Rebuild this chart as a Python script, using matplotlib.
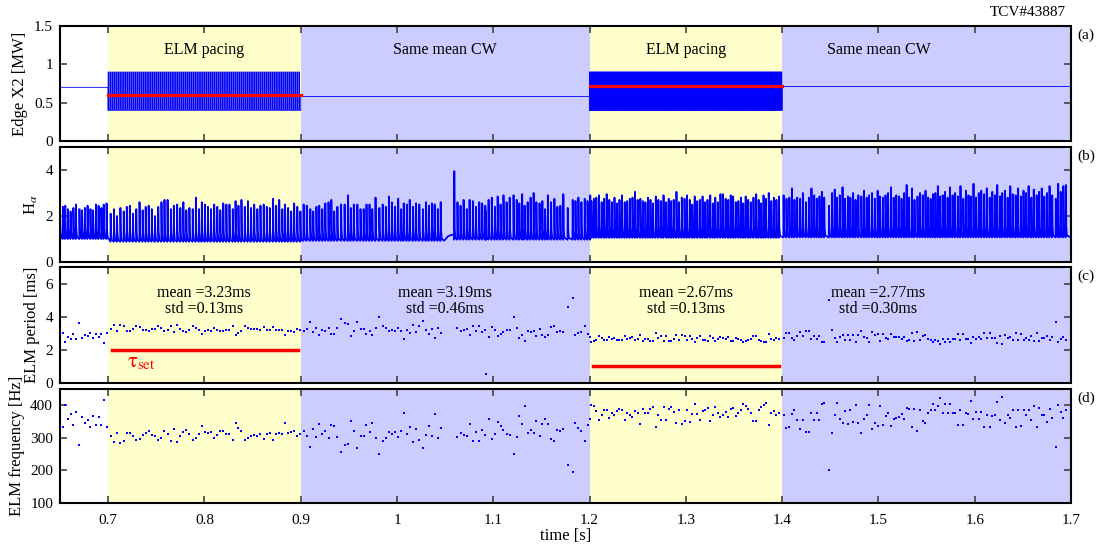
import matplotlib
matplotlib.use('Agg')
import numpy as np
import matplotlib.pyplot as plt
from matplotlib.ticker import FuncFormatter

plt.rcParams['font.family'] = ['Liberation Serif', 'DejaVu Serif']
plt.rcParams['mathtext.fontset'] = 'stix'
plt.rcParams['font.size'] = 11

# ---- phases of the shot ----
pace_on = [0.7, 1.2]
pace_off = [0.9, 1.4]
cw_on = [0.9, 1.4]
cw_off = [1.2, 1.7]
phase_names = ['ELM pacing', 'Same mean CW', 'ELM pacing', 'Same mean CW']
phase_label_t = [0.8, 1.05, 1.3, 1.5]

# ---- edge X2 power (a) ----
cw_level = [0.70, 0.58, 0.71]      # before, between and after pacing [MW]
pace_hi, pace_lo = 0.9, 0.4        # modulation levels [MW]
tau_set = [2.0, 1.0]               # pacing period [ms]
pace_duty = [0.40, 0.64]
pace_mean = [0.60, 0.72]

# ---- ELMs: first ELM time of each block, ELM frequency [Hz], H-alpha peak ----
elm_t0 = [0.650, 0.7026, 0.903, 1.0595, 1.2019, 1.4015]
elm_base = [1.0, 0.88, 0.92, 0.97, 1.05, 1.07]

freq_pre = [350, 333, 401, 358, 373, 338, 378, 277, 365, 345, 356, 333, 367, 340,
            364, 341, 416, 333]
freq_pace1 = [305, 288, 316, 285, 290, 316, 316, 306, 293, 295,
              310, 315, 321, 308, 305, 293, 300, 320, 313, 290,
              326, 287, 307, 318, 325, 311, 293, 301, 313, 335,
              317, 314, 317, 301, 310, 321, 320, 312, 312, 293,
              345, 331, 320, 293, 301, 307, 308, 305, 311, 298,
              313, 315, 294, 313, 315, 313, 346, 316, 318, 322,
              306, 313]
freq_cw1a = [321, 305, 271, 328, 303, 343, 313, 321, 301, 340,
             335, 303, 257, 277, 281, 351, 320, 270, 305, 306,
             340, 318, 346, 299, 251, 290, 301, 318, 313, 318,
             303, 320, 377, 311, 333, 287, 328, 293, 268, 310,
             337, 306, 372, 301, 331]
freq_cw1b = [61, 303, 316, 310, 305, 342, 289, 318, 290, 323,
             310, 1818, 358, 298, 311, 349, 336, 325, 311, 310,
             250, 303, 368, 342, 397, 316, 325, 316, 351, 305,
             343, 357, 343, 298, 291, 323, 321, 326, 218, 194,
             346, 329, 322, 290, 339, 359]
freq_pace2 = [400, 397, 383, 354, 369, 385, 385, 361, 377, 371,
              383, 389, 387, 354, 375, 371, 364, 382, 375, 344,
              390, 375, 375, 390, 395, 334, 370, 354, 395, 354,
              390, 395, 380, 347, 385, 343, 352, 387, 350, 374,
              403, 372, 354, 382, 385, 392, 352, 371, 395, 377,
              364, 371, 378, 364, 390, 392, 368, 375, 384, 403,
              397, 388, 375, 353, 353, 385, 395, 400, 407, 339,
              375, 382, 371, 375]
freq_cw2 = [370, 331, 332, 372, 387, 355, 326, 354, 319, 319,
            375, 354, 377, 354, 403, 407, 200, 314, 370, 407,
            357, 346, 383, 342, 385, 348, 400, 347, 316, 359,
            369, 401, 327, 346, 336, 398, 341, 366, 375, 337,
            359, 362, 364, 373, 359, 393, 388, 334, 390, 322,
            385, 352, 346, 375, 387, 403, 387, 397, 421, 375,
            405, 375, 405, 375, 375, 339, 387, 339, 375, 373,
            413, 359, 378, 358, 379, 334, 369, 332, 366, 369,
            410, 354, 425, 346, 371, 362, 387, 334, 385, 337,
            385, 369, 385, 354, 398, 332, 391, 370, 369, 349,
            389, 362, 271, 400, 379, 362, 385]

ha_pre = [2.2, 2.4, 2.45, 2.3, 2.2, 2.35, 2.5, 2.3, 2.25, 2.35, 2.45, 2.3, 2.25, 2.5,
          2.45, 2.35, 2.5, 2.55]
ha_pace1 = [2.1, 2.3, 2.0, 2.35, 2.2, 2.4, 2.45, 2.1, 2.3, 2.6,
            2.25, 2.4, 2.45, 2.3, 2.0, 2.4, 2.6, 2.7, 2.7, 2.3,
            2.45, 2.5, 2.35, 2.6, 2.25, 2.35, 2.3, 2.8, 2.3, 2.6,
            2.5, 2.4, 2.3, 2.5, 2.4, 2.25, 2.55, 2.5, 2.5, 2.3,
            2.65, 2.45, 2.7, 2.4, 2.65, 2.35, 2.5, 2.3, 2.45, 2.5,
            2.4, 2.35, 2.75, 2.45, 2.7, 2.3, 2.5, 2.35, 2.2, 2.55,
            2.4, 2.2]
ha_cw1a = [2.5, 2.45, 2.3, 2.2, 2.4, 2.45, 2.3, 2.55, 2.6, 2.7,
           2.2, 2.4, 2.5, 2.5, 2.9, 2.35, 2.5, 2.5, 2.3, 2.3,
           2.5, 2.5, 2.3, 2.8, 2.35, 2.5, 2.4, 2.85, 2.6, 2.4,
           2.75, 2.3, 2.55, 2.5, 2.7, 2.4, 2.55, 2.5, 2.3, 2.6,
           2.45, 2.55, 2.5, 2.3, 2.6]
ha_cw1b = [3.95, 2.6, 2.45, 2.7, 2.3, 2.7, 2.65, 2.4, 2.6, 2.55,
           2.45, 2.2, 2.7, 2.8, 2.4, 2.85, 2.5, 2.9, 2.6, 2.8,
           2.9, 2.7, 2.55, 2.95, 2.45, 2.6, 2.8, 3.0, 2.6, 2.55,
           2.65, 2.3, 2.9, 2.6, 2.75, 2.4, 2.45, 2.95, 2.35, 2.7,
           2.65, 2.8, 2.6, 2.75, 2.65, 2.9]
ha_pace2 = [2.65, 2.75, 2.8, 2.9, 2.6, 2.75, 2.95, 2.7, 2.6, 2.8,
            2.55, 2.7, 2.9, 2.6, 2.65, 2.75, 2.8, 3.05, 2.7, 2.75,
            2.65, 2.6, 2.8, 2.7, 2.55, 2.85, 2.7, 2.65, 2.9, 2.6,
            2.75, 2.65, 2.7, 3.05, 2.6, 2.8, 2.75, 2.9, 2.7, 2.5,
            2.85, 2.65, 2.7, 2.85, 2.6, 2.7, 2.9, 2.55, 2.8, 2.6,
            2.95, 2.95, 2.75, 2.7, 2.9, 2.85, 2.6, 2.65, 2.8, 2.55,
            2.85, 2.7, 2.6, 2.8, 2.95, 2.7, 2.55, 2.9, 2.75, 3.0,
            2.65, 2.8, 2.7, 2.85]
ha_cw2 = [2.9, 2.75, 2.8, 3.2, 2.7, 2.8, 2.75, 3.0, 2.6, 2.8,
          3.2, 2.9, 2.75, 2.85, 3.05, 2.8, 2.45, 3.0, 3.15, 2.8,
          2.9, 3.25, 2.75, 2.85, 2.8, 3.0, 2.7, 2.9, 2.85, 3.1,
          2.8, 2.9, 3.0, 2.75, 3.1, 2.85, 2.8, 2.9, 3.0, 3.25,
          2.8, 2.9, 2.85, 2.75, 3.0, 3.35, 2.8, 3.2, 2.7, 2.85,
          3.0, 2.9, 3.1, 2.8, 2.75, 2.95, 3.0, 3.3, 2.85, 2.9,
          3.05, 2.8, 3.25, 2.9, 3.0, 2.85, 3.3, 2.75, 3.1, 2.9,
          2.85, 3.4, 2.8, 3.0, 3.1, 2.95, 3.2, 2.8, 3.05, 2.9,
          3.35, 2.85, 3.0, 3.1, 2.8, 3.3, 2.95, 2.9, 3.2, 2.85,
          3.1, 3.0, 3.3, 2.8, 3.15, 2.9, 3.05, 3.2, 2.85, 3.0,
          3.3, 2.9, 2.75, 3.4, 3.05, 3.3, 3.35]

# slow H-alpha rise during the ELM-free phase before the big ELM
elm_free_t = [1.0490, 1.0530, 1.0560, 1.0590]
elm_free_v = [0.93, 1.12, 1.17, 1.20]

seg_mean = [3.23, 3.19, 2.67, 2.77]
seg_std = [0.13, 0.46, 0.13, 0.30]

x_ticks = [0.7, 0.8, 0.9, 1.0, 1.1, 1.2, 1.3, 1.4, 1.5, 1.6, 1.7]

freq_blocks = [freq_pre, freq_pace1, freq_cw1a, freq_cw1b, freq_pace2, freq_cw2]
ha_blocks = [ha_pre, ha_pace1, ha_cw1a, ha_cw1b, ha_pace2, ha_cw2]

# ELM times from the periods
elm_t, elm_f, ha_pts = [], [], []
for t0, f, h, b in zip(elm_t0, freq_blocks, ha_blocks, elm_base):
    f = np.asarray(f, float)
    t = t0 + np.concatenate([[0.0], np.cumsum(1.0 / f[1:])])
    elm_t.append(t)
    elm_f.append(f)
    for ti, hi in zip(t, h):
        ha_pts += [(ti - 0.0002, b), (ti, hi), (ti + 0.0004, b + 0.45), (ti + 0.0011, b + 0.08)]
elm_t = np.concatenate(elm_t)
elm_f = np.concatenate(elm_f)
elm_period = 1000.0 / elm_f
ha_pts += list(zip(elm_free_t, elm_free_v))
ha_pts += [(0.65, elm_base[0]), (1.7, elm_base[-1])]
ha_pts.sort()
ha_t = [p[0] for p in ha_pts]
ha_v = [p[1] for p in ha_pts]

# X2 power trace
pw_t, pw_v = [0.65, 0.7], [cw_level[0], cw_level[0]]
for k in range(2):
    P = tau_set[k] / 1000.0
    for s in np.arange(pace_on[k], pace_off[k] - 1e-9, P):
        e = s + pace_duty[k] * P
        pw_t += [s, s, e, e]
        pw_v += [pace_lo, pace_hi, pace_hi, pace_lo]
    pw_t += [pace_off[k], pace_off[k]]
    pw_v += [pace_lo, cw_level[k + 1]]
    pw_t.append(cw_off[k])
    pw_v.append(cw_level[k + 1])
pw_t += [1.6995, 1.6995]
pw_v += [cw_level[2], 0.0]

yellow = '#FFFFCC'
lilac = '#CCCCFF'
blue = '#0000FF'

fig = plt.figure(figsize=(11.02, 5.47), dpi=100)
W, H = 1102.0, 547.0
tops = [26, 147, 267, 389]
bots = [141, 262, 383, 503]
axes = []
for tp, bt in zip(tops, bots):
    ax = fig.add_axes([60 / W, 1 - bt / H, 1011 / W, (bt - tp) / H])
    for a, b in zip(pace_on, pace_off):
        ax.axvspan(a, b, color=yellow, lw=0, zorder=0)
    for a, b in zip(cw_on, cw_off):
        ax.axvspan(a, b, color=lilac, lw=0, zorder=0)
    ax.set_xlim(0.65, 1.7)
    ax.set_xticks(x_ticks)
    ax.tick_params(direction='in', top=True, right=True, length=5, width=1.2,
                   color='#444444', labelsize=11, pad=5)
    ax.tick_params(axis='x', pad=8)
    for sp in ax.spines.values():
        sp.set_linewidth(1.5)
    ax.yaxis.set_major_formatter(FuncFormatter(lambda v, p: '%g' % v))
    ax.xaxis.set_major_formatter(FuncFormatter(lambda v, p: '%g' % v))
    axes.append(ax)
for ax in axes[:-1]:
    ax.tick_params(labelbottom=False)
axa, axb, axc, axd = axes

# (a)
axa.plot(pw_t, pw_v, color=blue, lw=0.6, zorder=2)
for a, b, m in zip(pace_on, pace_off, pace_mean):
    axa.plot([a, b], [m, m], color='red', lw=2.3, zorder=3)
axa.set_ylim(0, 1.5)
axa.set_yticks([0, 0.5, 1, 1.5])
axa.set_ylabel('Edge X2 [MW]', fontsize=12)
for name, t in zip(phase_names, phase_label_t):
    axa.text(t, 1.19, name, ha='center', va='center', fontsize=11.5)

# (b)
axb.plot(ha_t, ha_v, color=blue, lw=1.3, zorder=2)
axb.set_ylim(0, 5)
axb.set_yticks([0, 2, 4])
axb.set_ylabel(r'H$_\alpha$', fontsize=12)

# (c)
axc.plot(elm_t, elm_period, 's', color=blue, ms=2, mew=0, zorder=2)
for a, b, ts in zip(pace_on, pace_off, tau_set):
    axc.plot([a + 0.0035, b - 0.003], [ts, ts], color='red', lw=2.5, zorder=3)
axc.text(0.7195, 0.95, r'$\mathrm{\tau}_{\mathrm{set}}$', color='red', fontsize=15,
         va='baseline')
for t, m, s in zip(phase_label_t, seg_mean, seg_std):
    axc.text(t, 5.45, 'mean =%.2fms' % m, ha='center', va='center', fontsize=11.5)
    axc.text(t, 4.45, 'std =%.2fms' % s, ha='center', va='center', fontsize=11.5)
axc.set_ylim(0, 7)
axc.set_yticks([0, 2, 4, 6])
axc.set_ylabel('ELM period [ms]', fontsize=12)

# (d)
axd.plot(elm_t, elm_f, 's', color=blue, ms=2, mew=0, zorder=2)
axd.set_ylim(100, 450)
axd.set_yticks([100, 200, 300, 400])
axd.set_ylabel('ELM frequency [Hz]', fontsize=12)
axd.set_xlabel('time [s]', fontsize=12, labelpad=1)

fig.text(1066 / W, 1 - 12 / H, 'TCV#43887', ha='right', va='center', fontsize=11)
for lab, tp in zip(['(a)', '(b)', '(c)', '(d)'], tops):
    fig.text(1086 / W, 1 - (tp + 9) / H, lab, ha='center', va='center', fontsize=11)

fig.savefig('out.png', dpi=100)
